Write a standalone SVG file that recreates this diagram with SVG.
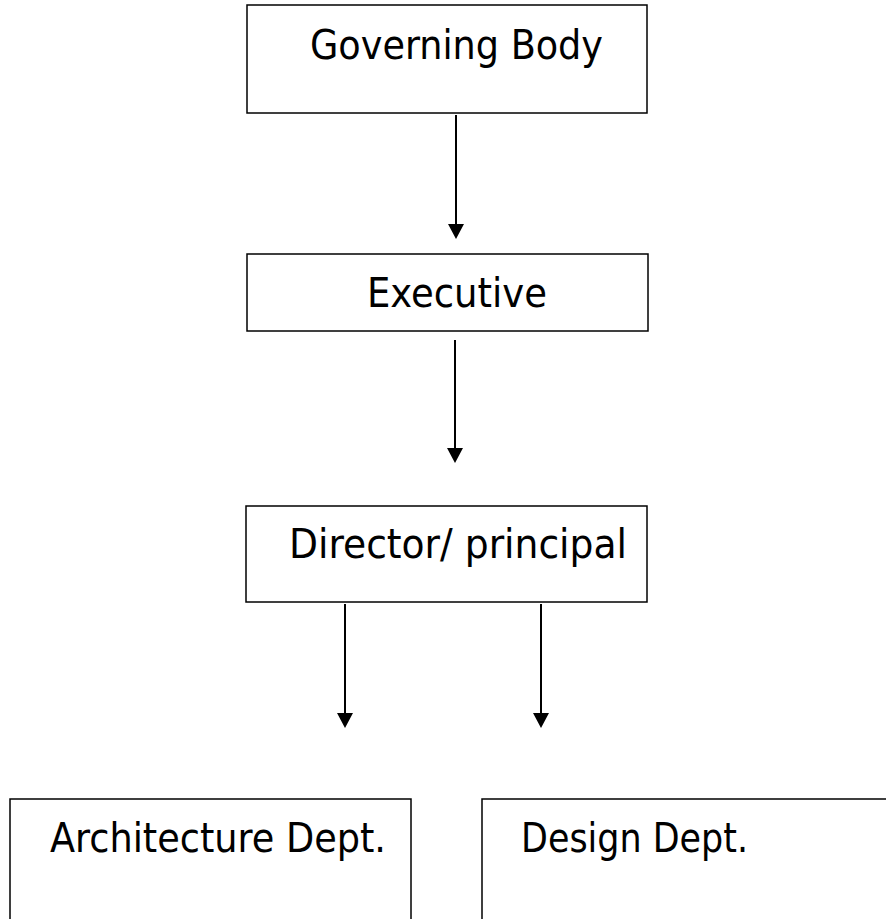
<svg xmlns="http://www.w3.org/2000/svg" width="886" height="919" viewBox="0 0 886 919">
  <style>
    .box { fill: #ffffff; stroke: #000000; stroke-width: 1.5; }
    .label { font-family: 'DejaVu Sans Condensed', 'DejaVu Sans', 'Liberation Sans', sans-serif; font-size: 41px; fill: #000000; }
    .conn { stroke: #000000; stroke-width: 2; fill: none; marker-end: url(#arrow); }
  </style>
  <defs>
    <marker id="arrow" markerUnits="userSpaceOnUse" viewBox="0 0 15 16" markerWidth="15" markerHeight="16" refX="1" refY="8" orient="auto">
      <path d="M0,0 L15,8 L0,16 z" fill="#000000"/>
    </marker>
  </defs>
  <rect x="0" y="0" width="886" height="919" fill="#ffffff"/>
  <g id="governing-body">
    <rect class="box" x="247" y="5" width="400" height="108"/>
    <text class="label" x="310" y="59" textLength="293" lengthAdjust="spacingAndGlyphs">Governing Body</text>
  </g>
  <g id="executive">
    <rect class="box" x="247" y="254" width="401" height="77"/>
    <text class="label" x="367" y="307" textLength="180" lengthAdjust="spacingAndGlyphs">Executive</text>
  </g>
  <g id="director">
    <rect class="box" x="246" y="506" width="401" height="96"/>
    <text class="label" x="289" y="558" textLength="338" lengthAdjust="spacingAndGlyphs">Director/ principal</text>
  </g>
  <g id="architecture-dept">
    <rect class="box" x="10" y="799" width="401" height="200"/>
    <text class="label" x="50" y="852" textLength="336" lengthAdjust="spacingAndGlyphs">Architecture Dept.</text>
  </g>
  <g id="design-dept">
    <rect class="box" x="482" y="799" width="500" height="200"/>
    <text class="label" x="521" y="852" textLength="227" lengthAdjust="spacingAndGlyphs">Design Dept.</text>
  </g>
  <g id="connectors">
    <line class="conn" x1="456" y1="115" x2="456" y2="225"/>
    <line class="conn" x1="455" y1="340" x2="455" y2="449"/>
    <line class="conn" x1="345" y1="604" x2="345" y2="714"/>
    <line class="conn" x1="541" y1="604" x2="541" y2="714"/>
  </g>
</svg>
